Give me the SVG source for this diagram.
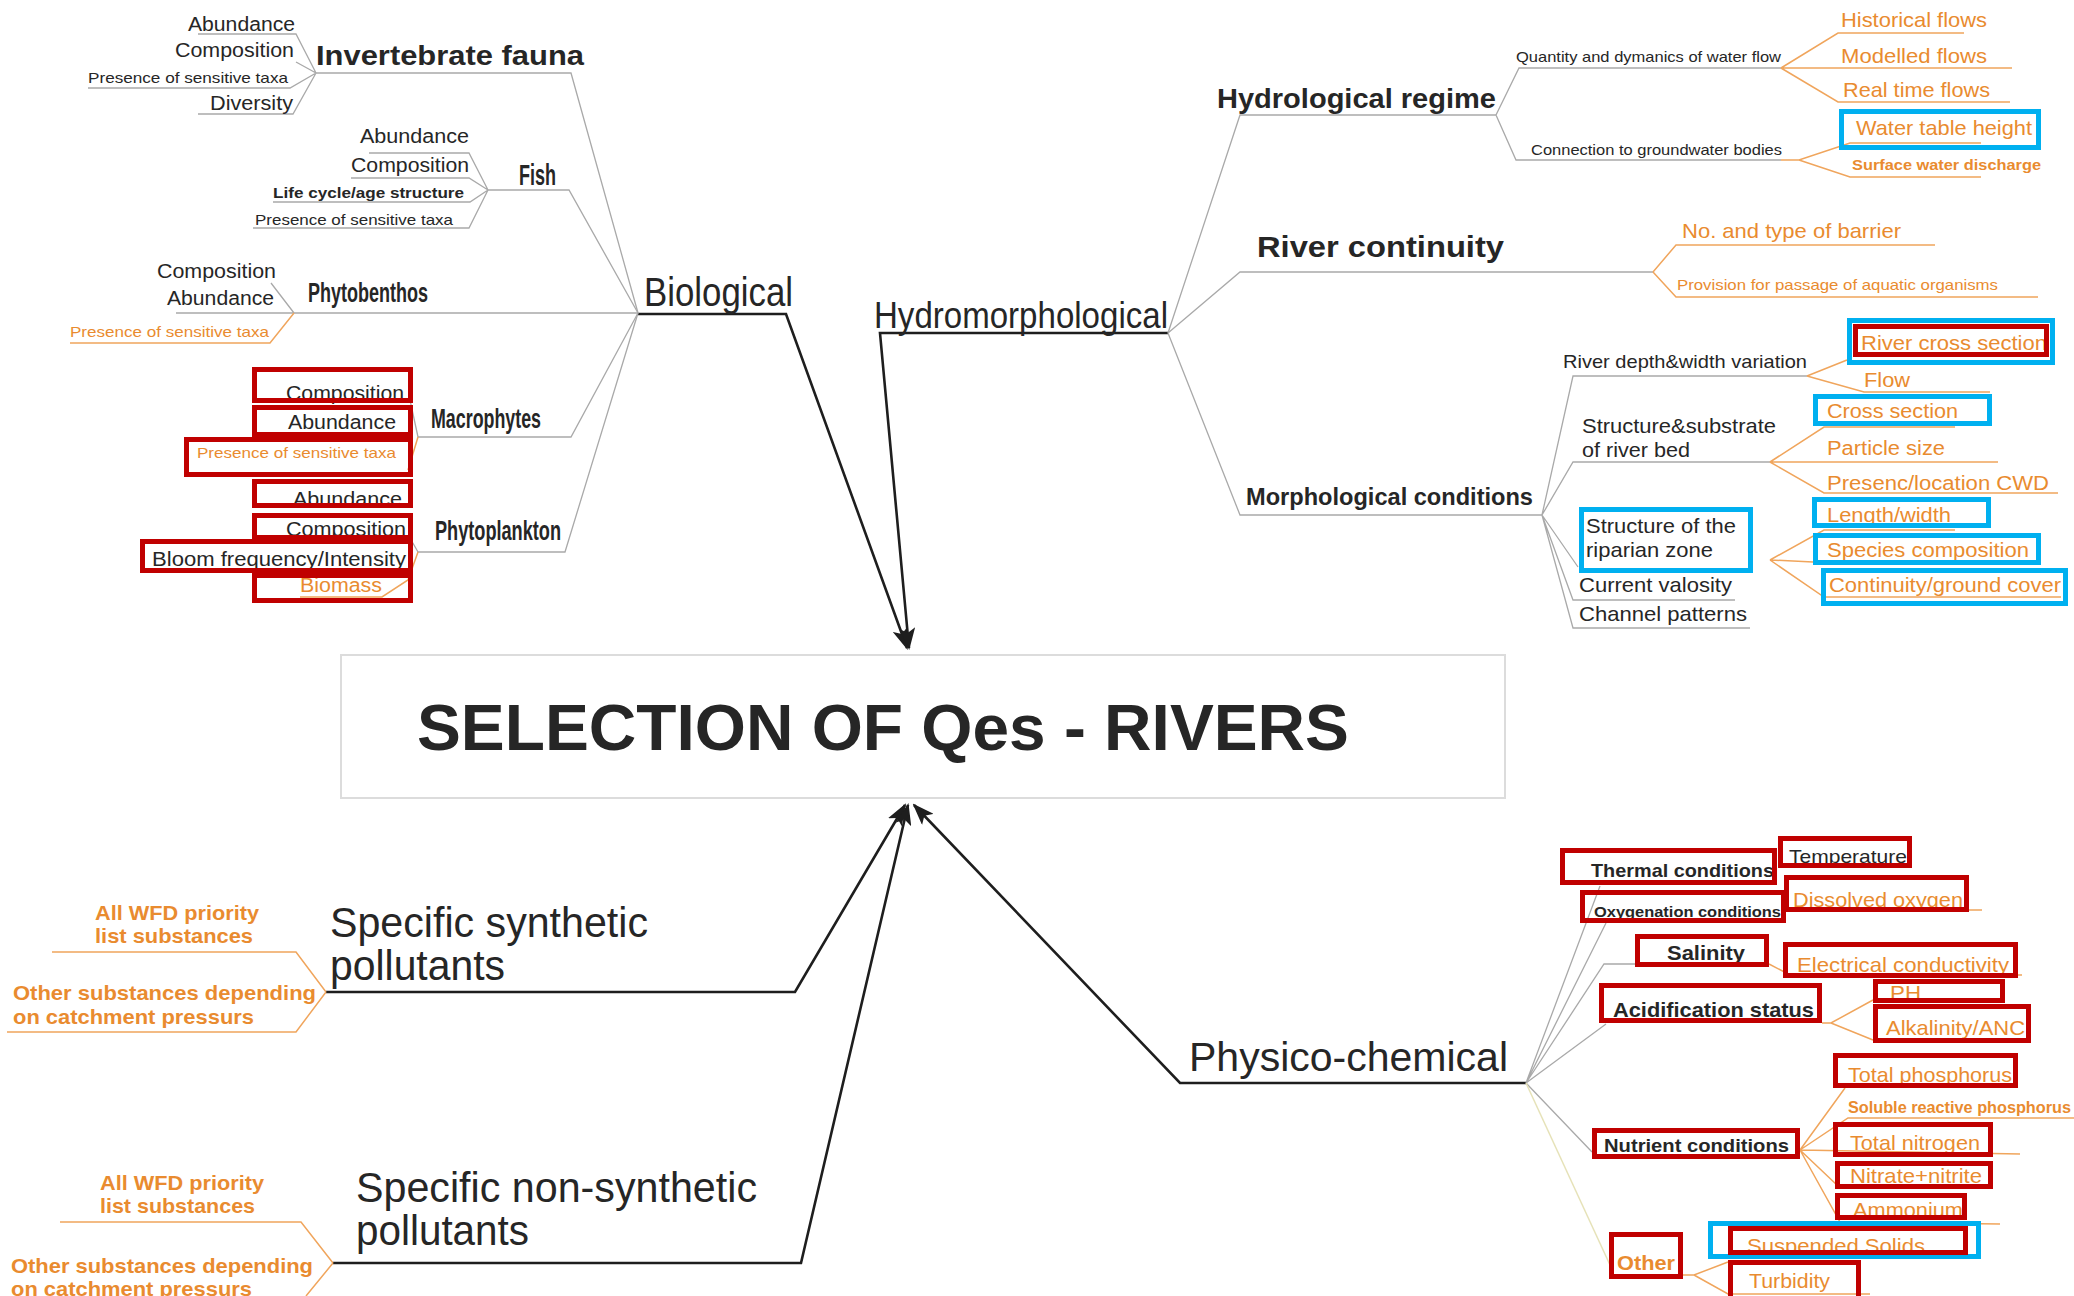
<svg xmlns="http://www.w3.org/2000/svg" width="2074" height="1296" viewBox="0 0 2074 1296">
<style>
text{font-family:"Liberation Sans",Arial,sans-serif;fill:#262626}
.b{font-weight:bold}
.o{fill:#e98b2f}
.s15{font-size:15px}.s20{font-size:20px}.s21{font-size:21px}
.g{fill:none;stroke:#a9a9a9;stroke-width:1.3}
.og{fill:none;stroke:#f0a55c;stroke-width:1.5}
.yl{fill:none;stroke:#e6e2b8;stroke-width:1.5}
.k{fill:none;stroke:#1e1e1e;stroke-width:2.6;marker-end:url(#ah)}
.red{fill:none;stroke:#c00000;stroke-width:5}
.blue{fill:none;stroke:#00b0f0;stroke-width:5}
</style>
<defs>
<marker id="ah" markerUnits="userSpaceOnUse" markerWidth="22" markerHeight="16" refX="20" refY="8" orient="auto">
<path d="M0,0 L22,8 L0,16 L5,8 z" fill="#1e1e1e"/>
</marker>
</defs>
<rect width="2074" height="1296" fill="#fff"/>

<g id="connectors">
<!-- main arrows -->
<path class="k" d="M638,314 L786,314 L907,648"/>
<path class="k" d="M1168,333 L880,333 L909,648"/>
<path class="k" d="M326,992 L795,992 L905,805"/>
<path class="k" d="M333,1263 L801,1263 L908,805"/>
<path class="k" d="M1526,1083 L1180,1083 L914,805"/>
<!-- biological cluster -->
<path class="g" d="M316,73 L571,73 L638,313"/>
<path class="g" d="M198,34 L296,34 L316,73 M296,62 L316,73 M88,88 L290,88 L316,73 M198,114 L293,114 L316,73"/>
<path class="g" d="M488,190 L569,190 L638,313"/>
<path class="g" d="M369,153 L469,153 L488,190 M351,178 L469,178 L488,190 M273,202 L470,202 L488,190 M253,228 L469,228 L488,190"/>
<path class="g" d="M176,313 L638,313 M271,283 L294,313"/>
<path class="og" d="M70,343 L270,343 L294,313"/>
<path class="g" d="M418,437 L571,437 L638,313 M410,400 L418,437"/>
<path class="og" d="M408,470 L418,437"/>
<path class="g" d="M418,552 L565,552 L638,313 M410,538 L418,552"/>
<path class="og" d="M300,597 L382,597 L408,580 L418,552"/>
<!-- hydromorphological cluster -->
<path class="g" d="M1168,333 L1240,115 L1496,115"/>
<path class="g" d="M1496,115 L1519,68 L1781,68 M1496,115 L1516,160 L1781,160"/>
<path class="og" d="M1781,68 L1838,33 L1964,33 M1781,68 L2012,68 M1781,68 L1838,102 L2010,102"/>
<path class="og" d="M1781,160 L1799,160 L1850,143 L1981,143 M1799,160 L1850,177 L1981,177"/>
<path class="g" d="M1168,333 L1240,272 L1653,272"/>
<path class="og" d="M1653,272 L1676,245 L1935,245 M1653,272 L1676,297 L2038,297"/>
<path class="g" d="M1168,333 L1240,515 L1542,515"/>
<path class="g" d="M1542,515 L1573,376 L1807,376 M1542,515 L1573,462 L1770,462 M1542,515 L1578,567 M1542,515 L1573,600 L1735,600 M1542,515 L1573,628 L1750,628"/>
<path class="og" d="M1807,376 L1847,360 M1807,376 L1864,392 L1990,392"/>
<path class="og" d="M1770,462 L1824,427 L1955,427 M1770,462 L1998,462 M1770,462 L1824,493 L2058,493"/>
<path class="og" d="M1770,560 L1824,530 L1955,530 M1770,560 L1813,562 M1770,560 L1824,597 L2061,597"/>
<!-- physico-chemical cluster -->
<path class="g" d="M1526,1083 L1600,886 M1526,1083 L1606,923 M1526,1083 L1604,964 L1637,964 M1526,1083 L1606,1024 M1526,1083 L1592,1152"/>
<path class="yl" d="M1526,1083 L1610,1265"/>
<path class="og" d="M1786,910 L1982,910 M1769,964 L1790,975 L2022,975"/>
<path class="og" d="M1822,1023 L1831,1023 L1873,1000 M1831,1023 L1873,1040"/>
<path class="og" d="M1800,1150 L1845,1088 M1800,1150 L1848,1118 L2074,1118 M1800,1150 L2020,1154 M1800,1150 L1838,1186 M1800,1150 L1840,1222 L2000,1224"/>
<path class="og" d="M1683,1275 L1694,1275 L1728,1262 M1694,1275 L1728,1294 L1870,1294"/>
<!-- pollutants -->
<path class="og" d="M52,952 L296,952 L326,992 M7,1032 L296,1032 L326,992"/>
<path class="og" d="M60,1222 L301,1222 L333,1263 M333,1263 L306,1296"/>
</g>

<g id="center">
<rect x="341" y="655" width="1164" height="143" fill="#fff" stroke="#dcdcdc" stroke-width="2"/>
<text class="b" x="417" y="750" font-size="65" textLength="932" lengthAdjust="spacingAndGlyphs">SELECTION OF Qes - RIVERS</text>
</g>

<g id="biological"><text x="644" y="306" font-size="40" textLength="149" lengthAdjust="spacingAndGlyphs">Biological</text></g>
<g id="hydromorphological"><text x="874" y="328" font-size="36" textLength="294" lengthAdjust="spacingAndGlyphs">Hydromorphological</text></g>
<g id="physico-chemical"><text x="1189" y="1071" font-size="41" textLength="319" lengthAdjust="spacingAndGlyphs">Physico-chemical</text></g>
<g id="synthetic">
<text x="330" y="937" font-size="42" textLength="318" lengthAdjust="spacingAndGlyphs">Specific synthetic</text>
<text x="330" y="980" font-size="42" textLength="175" lengthAdjust="spacingAndGlyphs">pollutants</text>
</g>
<g id="non-synthetic">
<text x="356" y="1202" font-size="42" textLength="401" lengthAdjust="spacingAndGlyphs">Specific non-synthetic</text>
<text x="356" y="1245" font-size="42" textLength="173" lengthAdjust="spacingAndGlyphs">pollutants</text>
</g>
<g id="synthetic-children">
<text class="o b s21" x="95" y="920" textLength="164" lengthAdjust="spacingAndGlyphs">All WFD priority</text>
<text class="o b s21" x="95" y="943" textLength="158" lengthAdjust="spacingAndGlyphs">list substances</text>
<text class="o b s21" x="13" y="1000" textLength="303" lengthAdjust="spacingAndGlyphs">Other substances depending</text>
<text class="o b s21" x="13" y="1024" textLength="241" lengthAdjust="spacingAndGlyphs">on catchment pressurs</text>
</g>
<g id="non-synthetic-children">
<text class="o b s21" x="100" y="1190" textLength="164" lengthAdjust="spacingAndGlyphs">All WFD priority</text>
<text class="o b s21" x="100" y="1213" textLength="155" lengthAdjust="spacingAndGlyphs">list substances</text>
<text class="o b s21" x="11" y="1273" textLength="302" lengthAdjust="spacingAndGlyphs">Other substances depending</text>
<text class="o b s21" x="11" y="1296" textLength="241" lengthAdjust="spacingAndGlyphs">on catchment pressurs</text>
</g>

<g id="invertebrate-fauna">
<text class="b" x="316" y="65" font-size="27" textLength="268" lengthAdjust="spacingAndGlyphs">Invertebrate fauna</text>
<text class="s20" x="188" y="31" textLength="107" lengthAdjust="spacingAndGlyphs">Abundance</text>
<text class="s20" x="175" y="57" textLength="119" lengthAdjust="spacingAndGlyphs">Composition</text>
<text class="s15" x="88" y="83" textLength="200" lengthAdjust="spacingAndGlyphs">Presence of sensitive taxa</text>
<text class="s20" x="210" y="110" textLength="83" lengthAdjust="spacingAndGlyphs">Diversity</text>
</g>
<g id="fish">
<text class="b" x="519" y="185" font-size="29" textLength="37" lengthAdjust="spacingAndGlyphs">Fish</text>
<text class="s20" x="360" y="143" textLength="109" lengthAdjust="spacingAndGlyphs">Abundance</text>
<text class="s20" x="351" y="172" textLength="118" lengthAdjust="spacingAndGlyphs">Composition</text>
<text class="s15 b" x="273" y="198" textLength="191" lengthAdjust="spacingAndGlyphs">Life cycle/age structure</text>
<text class="s15" x="255" y="225" textLength="198" lengthAdjust="spacingAndGlyphs">Presence of sensitive taxa</text>
</g>
<g id="phytobenthos">
<text class="b" x="308" y="302" font-size="27" textLength="120" lengthAdjust="spacingAndGlyphs">Phytobenthos</text>
<text class="s20" x="157" y="278" textLength="119" lengthAdjust="spacingAndGlyphs">Composition</text>
<text class="s20" x="167" y="305" textLength="107" lengthAdjust="spacingAndGlyphs">Abundance</text>
<text class="s15 o" x="70" y="337" textLength="199" lengthAdjust="spacingAndGlyphs">Presence of sensitive taxa</text>
</g>
<g id="macrophytes">
<text class="b" x="431" y="428" font-size="28" textLength="110" lengthAdjust="spacingAndGlyphs">Macrophytes</text>
<text class="s20" x="286" y="400" textLength="118" lengthAdjust="spacingAndGlyphs">Composition</text>
<text class="s20" x="288" y="429" textLength="108" lengthAdjust="spacingAndGlyphs">Abundance</text>
<text class="s15 o" x="197" y="458" textLength="199" lengthAdjust="spacingAndGlyphs">Presence of sensitive taxa</text>
<rect class="red" x="254.5" y="369.5" width="156" height="31"/>
<rect class="red" x="254.5" y="407.5" width="156" height="27"/>
<rect class="red" x="186.5" y="439.5" width="224" height="35"/>
</g>
<g id="phytoplankton">
<text class="b" x="435" y="540" font-size="28" textLength="126" lengthAdjust="spacingAndGlyphs">Phytoplankton</text>
<text class="s20" x="293" y="506" textLength="109" lengthAdjust="spacingAndGlyphs">Abundance</text>
<text class="s20" x="286" y="536" textLength="120" lengthAdjust="spacingAndGlyphs">Composition</text>
<text class="s20" x="152" y="566" textLength="254" lengthAdjust="spacingAndGlyphs">Bloom frequency/Intensity</text>
<text class="s20 o" x="300" y="592" textLength="82" lengthAdjust="spacingAndGlyphs">Biomass</text>
<rect class="red" x="254.5" y="481.5" width="156" height="24"/>
<rect class="red" x="254.5" y="515.5" width="156" height="22"/>
<rect class="red" x="142.5" y="541.5" width="268" height="29"/>
<rect class="red" x="254.5" y="575.5" width="156" height="25"/>
</g>

<g id="hydrological-regime">
<text class="b" x="1217" y="108" font-size="28" textLength="279" lengthAdjust="spacingAndGlyphs">Hydrological regime</text>
<text class="s15" x="1516" y="62" textLength="265" lengthAdjust="spacingAndGlyphs">Quantity and dymanics of water flow</text>
<text class="s15" x="1531" y="155" textLength="251" lengthAdjust="spacingAndGlyphs">Connection to groundwater bodies</text>
<text class="s21 o" x="1841" y="27" textLength="146" lengthAdjust="spacingAndGlyphs">Historical flows</text>
<text class="s21 o" x="1841" y="63" textLength="146" lengthAdjust="spacingAndGlyphs">Modelled flows</text>
<text class="s21 o" x="1843" y="97" textLength="147" lengthAdjust="spacingAndGlyphs">Real time flows</text>
<text class="s21 o" x="1856" y="135" textLength="176" lengthAdjust="spacingAndGlyphs">Water table height</text>
<text class="s15 o b" x="1852" y="170" textLength="189" lengthAdjust="spacingAndGlyphs">Surface water discharge</text>
<rect class="blue" x="1841.5" y="111.5" width="197" height="36"/>
</g>
<g id="river-continuity">
<text class="b" x="1257" y="257" font-size="30" textLength="247" lengthAdjust="spacingAndGlyphs">River continuity</text>
<text class="s21 o" x="1682" y="238" textLength="219" lengthAdjust="spacingAndGlyphs">No. and type of barrier</text>
<text class="s15 o" x="1677" y="290" textLength="321" lengthAdjust="spacingAndGlyphs">Provision for passage of aquatic organisms</text>
</g>
<g id="morphological-conditions">
<text class="b" x="1246" y="505" font-size="23" textLength="287" lengthAdjust="spacingAndGlyphs">Morphological conditions</text>
<text x="1563" y="368" font-size="19" textLength="244" lengthAdjust="spacingAndGlyphs">River depth&amp;width variation</text>
<text class="s20 o" x="1861" y="350" textLength="186" lengthAdjust="spacingAndGlyphs">River cross section</text>
<text class="s20 o" x="1864" y="387" textLength="46" lengthAdjust="spacingAndGlyphs">Flow</text>
<text class="s21" x="1582" y="433" textLength="194" lengthAdjust="spacingAndGlyphs">Structure&amp;substrate</text>
<text class="s21" x="1582" y="457" textLength="108" lengthAdjust="spacingAndGlyphs">of river bed</text>
<text class="s20 o" x="1827" y="418" textLength="131" lengthAdjust="spacingAndGlyphs">Cross section</text>
<text class="s20 o" x="1827" y="455" textLength="118" lengthAdjust="spacingAndGlyphs">Particle size</text>
<text class="s20 o" x="1827" y="490" textLength="222" lengthAdjust="spacingAndGlyphs">Presenc/location CWD</text>
<text class="s20 o" x="1827" y="522" textLength="124" lengthAdjust="spacingAndGlyphs">Length/width</text>
<text class="s20 o" x="1827" y="557" textLength="202" lengthAdjust="spacingAndGlyphs">Species composition</text>
<text class="s20 o" x="1829" y="592" textLength="232" lengthAdjust="spacingAndGlyphs">Continuity/ground cover</text>
<text class="s21" x="1586" y="533" textLength="150" lengthAdjust="spacingAndGlyphs">Structure of the</text>
<text class="s21" x="1586" y="557" textLength="127" lengthAdjust="spacingAndGlyphs">riparian zone</text>
<text class="s21" x="1579" y="592" textLength="153" lengthAdjust="spacingAndGlyphs">Current valosity</text>
<text class="s21" x="1579" y="621" textLength="168" lengthAdjust="spacingAndGlyphs">Channel patterns</text>
<rect class="blue" x="1849.5" y="320.5" width="203" height="42"/>
<rect class="red" x="1855.5" y="326.5" width="191" height="28"/>
<rect class="blue" x="1815.5" y="396.5" width="174" height="27"/>
<rect class="blue" x="1814.5" y="499.5" width="174" height="26"/>
<rect class="blue" x="1815.5" y="535.5" width="223" height="27"/>
<rect class="blue" x="1823.5" y="570.5" width="242" height="33"/>
<rect class="blue" x="1581.5" y="509.5" width="169" height="61"/>
</g>

<g id="thermal-conditions">
<text class="b" x="1591" y="877" font-size="19" textLength="183" lengthAdjust="spacingAndGlyphs">Thermal conditions</text>
<text x="1789" y="863" font-size="19" textLength="118" lengthAdjust="spacingAndGlyphs">Temperature</text>
<rect class="red" x="1562.5" y="850.5" width="212" height="32"/>
<rect class="red" x="1780.5" y="838.5" width="129" height="27"/>
</g>
<g id="oxygenation-conditions">
<text class="b s15" x="1594" y="917" textLength="187" lengthAdjust="spacingAndGlyphs">Oxygenation conditions</text>
<text class="s21 o" x="1793" y="907" textLength="170" lengthAdjust="spacingAndGlyphs">Dissolved oxygen</text>
<rect class="red" x="1582.5" y="892.5" width="201" height="28"/>
<rect class="red" x="1786.5" y="877.5" width="180" height="32"/>
</g>
<g id="salinity">
<text class="b s21" x="1667" y="960" textLength="78" lengthAdjust="spacingAndGlyphs">Salinity</text>
<text class="s21 o" x="1797" y="972" textLength="212" lengthAdjust="spacingAndGlyphs">Electrical conductivity</text>
<rect class="red" x="1637.5" y="936.5" width="129" height="28"/>
<rect class="red" x="1785.5" y="944.5" width="230" height="31"/>
</g>
<g id="acidification-status">
<text class="b s21" x="1613" y="1017" textLength="201" lengthAdjust="spacingAndGlyphs">Acidification status</text>
<text class="s21 o" x="1890" y="1000" textLength="31" lengthAdjust="spacingAndGlyphs">PH</text>
<text class="s21 o" x="1886" y="1035" textLength="139" lengthAdjust="spacingAndGlyphs">Alkalinity/ANC</text>
<rect class="red" x="1601.5" y="985.5" width="218" height="35"/>
<rect class="red" x="1875.5" y="981.5" width="127" height="19"/>
<rect class="red" x="1875.5" y="1006.5" width="153" height="34"/>
</g>
<g id="nutrient-conditions">
<text class="b" x="1604" y="1152" font-size="19" textLength="185" lengthAdjust="spacingAndGlyphs">Nutrient conditions</text>
<text class="s21 o" x="1848" y="1082" textLength="164" lengthAdjust="spacingAndGlyphs">Total phosphorus</text>
<text class="o b" x="1848" y="1113" font-size="16" textLength="223" lengthAdjust="spacingAndGlyphs">Soluble reactive phosphorus</text>
<text class="s21 o" x="1850" y="1150" textLength="130" lengthAdjust="spacingAndGlyphs">Total nitrogen</text>
<text class="s21 o" x="1850" y="1183" textLength="132" lengthAdjust="spacingAndGlyphs">Nitrate+nitrite</text>
<text class="s21 o" x="1853" y="1217" textLength="110" lengthAdjust="spacingAndGlyphs">Ammonium</text>
<rect class="red" x="1594.5" y="1130.5" width="203" height="26"/>
<rect class="red" x="1835.5" y="1055.5" width="180" height="30"/>
<rect class="red" x="1835.5" y="1124.5" width="155" height="30"/>
<rect class="red" x="1837.5" y="1163.5" width="153" height="23"/>
<rect class="red" x="1837.5" y="1195.5" width="127" height="22"/>
</g>
<g id="other">
<text class="b s21 o" x="1617" y="1270" textLength="58" lengthAdjust="spacingAndGlyphs">Other</text>
<text class="s21 o" x="1747" y="1253" textLength="178" lengthAdjust="spacingAndGlyphs">Suspended Solids</text>
<text class="s21 o" x="1749" y="1288" textLength="81" lengthAdjust="spacingAndGlyphs">Turbidity</text>
<rect class="red" x="1611.5" y="1234.5" width="69" height="42"/>
<rect class="blue" x="1710.5" y="1223.5" width="268" height="33"/>
<rect class="red" x="1730.5" y="1228.5" width="235" height="24"/>
<rect class="red" x="1730.5" y="1262.5" width="128" height="40"/>
</g>
</svg>
